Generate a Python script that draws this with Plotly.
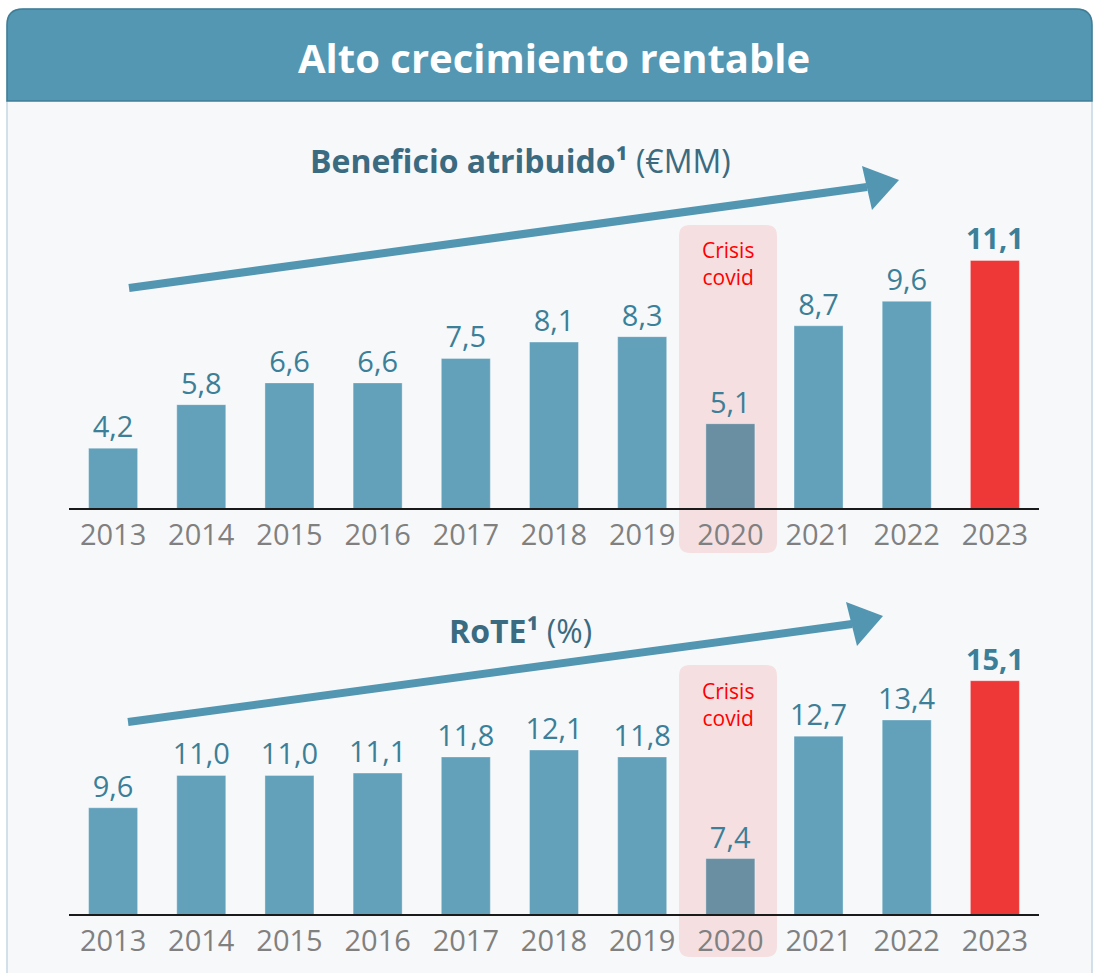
import plotly.graph_objects as go

# ---------------- data ----------------
years = ["2013", "2014", "2015", "2016", "2017", "2018", "2019", "2020", "2021", "2022", "2023"]
beneficio = [4.2, 5.8, 6.6, 6.6, 7.5, 8.1, 8.3, 5.1, 8.7, 9.6, 11.1]
rote = [9.6, 11.0, 11.0, 11.1, 11.8, 12.1, 11.8, 7.4, 12.7, 13.4, 15.1]
covid_year = "2020"
highlight_year = "2023"

title_text = "Alto crecimiento rentable"
sub1 = "<b>Beneficio atribuido¹</b> (€MM)"
sub2 = "<b>RoTE¹</b> (%)"
covid_text = "Crisis<br>covid"

# ---------------- style ----------------
W, H = 1094, 973
FONT = "Open Sans"
BAR = "#63a1bb"
BAR_COVID = "#6b8fa2"
BAR_RED = "#ee3838"
LABEL = "#3b7f98"
SUBT = "#3b6b80"
TICK = "#808080"
BANNER = "#5397b3"
CARD_BG = "#f7f8fa"


def px(x):
    return x / W


def py(y):
    return 1 - y / H


def fmt(v, y):
    s = f"{v:.1f}".replace(".", ",")
    return f"<b>{s}</b>" if y == highlight_year else s


def colors(ys):
    out = []
    for y in ys:
        if y == covid_year:
            out.append(BAR_COVID)
        elif y == highlight_year:
            out.append(BAR_RED)
        else:
            out.append(BAR)
    return out


fig = go.Figure()
for vals, xa, ya in [(beneficio, "x", "y"), (rote, "x2", "y2")]:
    fig.add_trace(go.Bar(
        x=years, y=vals, xaxis=xa, yaxis=ya,
        marker=dict(color=colors(years), line=dict(color="rgba(255,255,255,0.35)", width=1)),
        text=[fmt(v, y) for v, y in zip(vals, years)],
        textposition="outside", cliponaxis=False, constraintext="none",
        textfont=dict(family=FONT, size=29, color=LABEL),
        hoverinfo="x+y", showlegend=False,
    ))

# axes: (baseline px, top px, base value, px per unit)
top_base, top_top, top_v0, top_k = 508, 110, 2.0, 27.2
bot_base, bot_top, bot_v0, bot_k = 914, 590, 5.0, 23.1

xdom = [px(69), px(1039)]
common_x = dict(domain=xdom, range=[-0.5, 10.5], type="category",
                showline=True, linecolor="#1a1a1a", linewidth=2,
                showgrid=False, zeroline=False, ticks="",
                tickfont=dict(family=FONT, size=29, color=TICK))
fig.update_layout(
    xaxis=dict(anchor="y", **common_x),
    xaxis2=dict(anchor="y2", **common_x),
    yaxis=dict(domain=[py(top_base), py(top_top)],
               range=[top_v0, top_v0 + (top_base - top_top) / top_k],
               visible=False, anchor="x"),
    yaxis2=dict(domain=[py(bot_base), py(bot_top)],
                range=[bot_v0, bot_v0 + (bot_base - bot_top) / bot_k],
                visible=False, anchor="x2"),
    bargap=0.444,
    width=W, height=H,
    margin=dict(l=0, r=0, t=0, b=0),
    paper_bgcolor="white",
    plot_bgcolor="rgba(0,0,0,0)",
)

shapes = []


def rect_path(x0, y0, x1, y1, r, top_only=False):
    if top_only:
        return (f"M {px(x0)},{py(y1)} L {px(x0)},{py(y0 + r)} "
                f"Q {px(x0)},{py(y0)} {px(x0 + r)},{py(y0)} "
                f"L {px(x1 - r)},{py(y0)} Q {px(x1)},{py(y0)} {px(x1)},{py(y0 + r)} "
                f"L {px(x1)},{py(y1)} Z")
    return (f"M {px(x0 + r)},{py(y0)} L {px(x1 - r)},{py(y0)} "
            f"Q {px(x1)},{py(y0)} {px(x1)},{py(y0 + r)} "
            f"L {px(x1)},{py(y1 - r)} Q {px(x1)},{py(y1)} {px(x1 - r)},{py(y1)} "
            f"L {px(x0 + r)},{py(y1)} Q {px(x0)},{py(y1)} {px(x0)},{py(y1 - r)} "
            f"L {px(x0)},{py(y0 + r)} Q {px(x0)},{py(y0)} {px(x0 + r)},{py(y0)} Z")


# card
shapes.append(dict(type="path", xref="paper", yref="paper", layer="below",
                   path=rect_path(7, 9, 1092, 990, 16, top_only=True),
                   fillcolor=CARD_BG, line=dict(color="#c3d8e2", width=1.5)))
# banner
shapes.append(dict(type="path", xref="paper", yref="paper", layer="below",
                   path=rect_path(7, 9, 1092, 101, 16, top_only=True),
                   fillcolor=BANNER, line=dict(color="#3f7d96", width=1.5)))
# covid boxes
for (y0, y1) in [(225, 553), (665, 957)]:
    shapes.append(dict(type="path", xref="paper", yref="paper", layer="below",
                       path=rect_path(679, y0, 777, y1, 11),
                       fillcolor="#f5dfe1", line=dict(width=0)))

# trend arrows
for (sx, sy, ex, ey, h1, tip, h2) in [
    (129, 288, 867, 187, (862, 166), (899, 180), (872, 210)),
    (128, 722, 852, 624, (846, 602), (883, 616), (857, 646)),
]:
    shapes.append(dict(type="line", xref="paper", yref="paper", layer="above",
                       x0=px(sx), y0=py(sy), x1=px(ex), y1=py(ey),
                       line=dict(color="#5296b2", width=8)))
    shapes.append(dict(type="path", xref="paper", yref="paper", layer="above",
                       path=f"M {px(h1[0])},{py(h1[1])} L {px(tip[0])},{py(tip[1])} L {px(h2[0])},{py(h2[1])} Z",
                       fillcolor="#5296b2", line=dict(width=0)))

fig.update_layout(shapes=shapes)


def note(text, x, y, size, color):
    return dict(text=text, x=px(x), y=py(y), xref="paper", yref="paper",
                xanchor="center", yanchor="middle", showarrow=False,
                font=dict(family=FONT, size=size, color=color))


ann = [
    note(f"<b>{title_text}</b>", 554, 58, 40, "white"),
    note(sub1, 520, 161, 32, SUBT),
    note(sub2, 520, 630, 32, SUBT),
    note(covid_text, 728, 263, 21, "#ff0000"),
    note(covid_text, 728, 704, 21, "#ff0000"),
]
fig.update_layout(annotations=ann)

fig.write_html(
    "out.html",
    config={"displayModeBar": False},
    post_script="document.body.style.margin='0';document.body.style.overflow='hidden';",
)
